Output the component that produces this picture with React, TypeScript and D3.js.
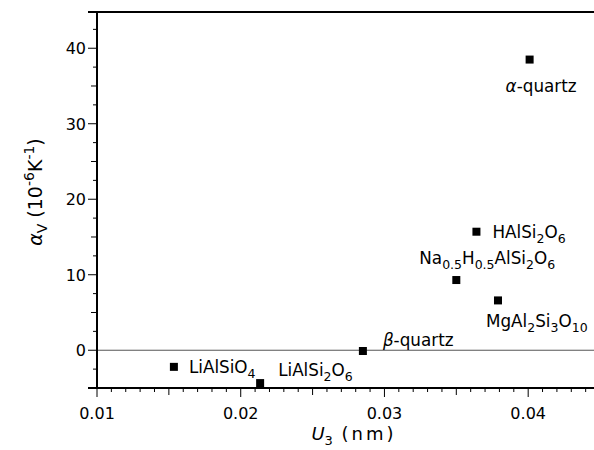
import React, { useRef, useEffect } from 'react';
import * as d3 from 'd3';

// compounds, U3 (nm) and volume expansion coefficient (10^-6 K^-1)
const names = ['α-quartz', 'HAlSi_{2}O_{6}', 'Na_{0.5}H_{0.5}AlSi_{2}O_{6}', 'MgAl_{2}Si_{3}O_{10}', 'β-quartz', 'LiAlSi_{2}O_{6}', 'LiAlSiO_{4}'];
const u3 = [0.0401, 0.0364, 0.035, 0.0379, 0.0285, 0.02135, 0.01535];
const alphaV = [38.5, 15.7, 9.3, 6.6, -0.1, -4.35, -2.2];
const xTicks = [0.01, 0.02, 0.03, 0.04];
const xTickLabels = ['0.01', '0.02', '0.03', '0.04'];
const yTicks = [0, 10, 20, 30, 40];
const yTickLabels = ['0', '10', '20', '30', '40'];

// label placement relative to marker (px)
const labelOffsets: [number, number][] = [[-24, 32], [16, 6], [-37, -16], [-12, 27], [20, -5], [18, -7], [15, 6]];

const FONT = '"DejaVu Sans", sans-serif';

const parseLabel = (s: string) => {
  const parts: { t: string; sub: boolean }[] = [];
  const re = /_\{([^}]*)\}/g;
  let last = 0;
  let m;
  while ((m = re.exec(s)) !== null) {
    if (m.index > last) parts.push({ t: s.slice(last, m.index), sub: false });
    parts.push({ t: m[1], sub: true });
    last = m.index + m[0].length;
  }
  if (last < s.length) parts.push({ t: s.slice(last), sub: false });
  return parts;
};

const App = () => {
  const svgRef = useRef<SVGSVGElement>(null);
  const width = 594;
  const height = 450;
  const margin = { top: 12, right: 0, bottom: 62, left: 97 };

  useEffect(() => {
    const svg = d3.select(svgRef.current);
    svg.selectAll('*').remove();

    const x = d3.scaleLinear().domain([0.01, 0.04458]).range([margin.left, width - margin.right]);
    const y = d3.scaleLinear().domain([-5, 44.8]).range([height - margin.bottom, margin.top]);
    const x0 = x.range()[0], x1 = x.range()[1];
    const yB = y.range()[0], yT = y.range()[1];

    const g = svg.append('g');

    // zero line
    g.append('line')
      .attr('x1', x0).attr('x2', x1)
      .attr('y1', y(0)).attr('y2', y(0))
      .attr('stroke', '#555').attr('stroke-width', 1);

    // frame: left, top, bottom
    g.append('line').attr('x1', x0).attr('x2', x0).attr('y1', yT).attr('y2', yB)
      .attr('stroke', '#000').attr('stroke-width', 2);
    g.append('line').attr('x1', x0 - 9).attr('x2', x1).attr('y1', yT).attr('y2', yT)
      .attr('stroke', '#000').attr('stroke-width', 2);
    g.append('line').attr('x1', x0 - 9).attr('x2', x1).attr('y1', yB).attr('y2', yB)
      .attr('stroke', '#000').attr('stroke-width', 2);

    // x ticks (minor every 0.001)
    const xMinor = d3.range(10, 45).map(i => i / 1000);
    g.selectAll('.xt').data(xMinor).enter().append('line')
      .attr('x1', d => x(d)).attr('x2', d => x(d))
      .attr('y1', yB)
      .attr('y2', (d, i) => yB + (i % 10 === 0 ? 9 : i % 5 === 0 ? 7 : 4))
      .attr('stroke', '#000').attr('stroke-width', 1);

    // y ticks (minor every 2.5)
    const yMinor = d3.range(-2, 18).map(i => i * 2.5);
    g.selectAll('.yt').data(yMinor).enter().append('line')
      .attr('x1', x0)
      .attr('x2', d => x0 - (d % 10 === 0 ? 9 : d % 5 === 0 ? 6 : 4))
      .attr('y1', d => y(d)).attr('y2', d => y(d))
      .attr('stroke', '#000').attr('stroke-width', 1);

    g.selectAll('.xl').data(xTicks).enter().append('text')
      .attr('x', d => x(d)).attr('y', yB + 31)
      .attr('text-anchor', 'middle')
      .style('font-family', FONT).style('font-size', '16px')
      .text((d, i) => xTickLabels[i]);

    g.selectAll('.yl').data(yTicks).enter().append('text')
      .attr('x', x0 - 11).attr('y', d => y(d) + 6)
      .attr('text-anchor', 'end')
      .style('font-family', FONT).style('font-size', '16px')
      .text((d, i) => yTickLabels[i]);

    // axis titles
    const xt = g.append('text')
      .attr('x', 354).attr('y', 440)
      .attr('text-anchor', 'middle')
      .style('font-family', FONT).style('font-size', '18px');
    xt.append('tspan').style('font-style', 'italic').text('U');
    xt.append('tspan').attr('dy', 5).style('font-size', '13px').text('3');
    xt.append('tspan').attr('dy', -5).attr('letter-spacing', 3).text(' (nm)');

    const yt = g.append('text')
      .attr('transform', `translate(42,${(yT + yB) / 2 - 8}) rotate(-90)`)
      .attr('text-anchor', 'middle')
      .style('font-family', FONT).style('font-size', '19px');
    yt.append('tspan').style('font-style', 'italic').text('α');
    yt.append('tspan').attr('dy', 5).style('font-size', '14px').text('V');
    yt.append('tspan').attr('dy', -5).text(' (10');
    yt.append('tspan').attr('dy', -8).style('font-size', '14px').text('-6');
    yt.append('tspan').attr('dy', 8).text('K');
    yt.append('tspan').attr('dy', -8).style('font-size', '14px').text('-1');
    yt.append('tspan').attr('dy', 8).text(')');

    // markers
    const pts = names.map((n, i) => ({ n, u: u3[i], a: alphaV[i], off: labelOffsets[i] }));
    g.selectAll('.pt').data(pts).enter().append('rect')
      .attr('x', d => x(d.u) - 4).attr('y', d => y(d.a) - 4)
      .attr('width', 8).attr('height', 8)
      .attr('fill', '#000');

    // labels with subscripts
    pts.forEach(d => {
      const t = g.append('text')
        .attr('x', x(d.u) + d.off[0]).attr('y', y(d.a) + d.off[1])
        .style('font-family', FONT).style('font-size', '16.8px');
      let shifted = false;
      parseLabel(d.n).forEach(p => {
        const sp = t.append('tspan').text(p.t);
        if (p.sub && !shifted) { sp.attr('dy', 5); shifted = true; }
        if (!p.sub && shifted) { sp.attr('dy', -5); shifted = false; }
        if (p.sub) sp.style('font-size', '12.5px');
        if (p.t.startsWith('α') || p.t.startsWith('β')) {
          sp.text(p.t.slice(1));
          t.insert('tspan', 'tspan').style('font-style', 'italic').text(p.t[0]);
        }
      });
    });
  }, []);

  return (
    <svg ref={svgRef} width={width} height={height}
      style={{ position: 'absolute', left: 0, top: 0, background: '#fff' }} />
  );
};

export default App;
